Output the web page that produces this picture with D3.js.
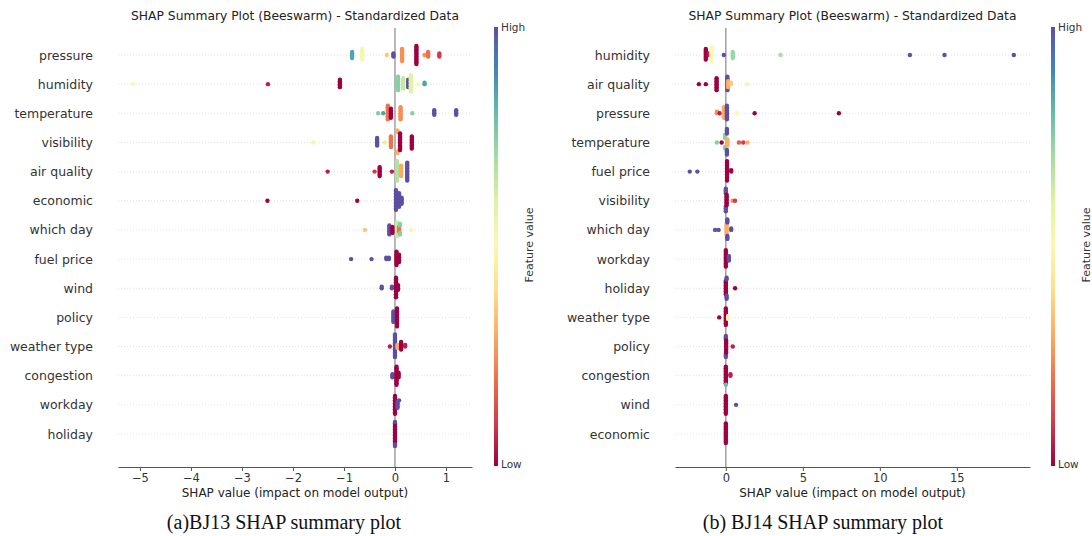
<!DOCTYPE html>
<html>
<head>
<meta charset="utf-8">
<script src="https://cdn.jsdelivr.net/npm/d3@7"></script>
<style>
  body { margin: 0; background: #fff; }
  svg text { font-family: "DejaVu Sans", sans-serif; }
  .caption { font-family: "Liberation Serif", "Times New Roman", serif !important; }
</style>
</head>
<body>
<svg id="chart" width="1092" height="536"></svg>
<script>
// features, top to bottom
const bj13Features = ["pressure", "humidity", "temperature", "visibility", "air quality", "economic",
  "which day", "fuel price", "wind", "policy", "weather type", "congestion", "workday", "holiday"];
const bj14Features = ["humidity", "air quality", "pressure", "temperature", "fuel price", "visibility",
  "which day", "workday", "holiday", "weather type", "policy", "congestion", "wind", "economic"];

// clusters per feature: [shap value, feature value (0 low .. 1 high), number of dots]
const bj13Points = [
  [[-0.84,0.85,5],[-0.64,0.55,8],[-0.16,0.35,1],[-0.03,1,3],[0.14,0.25,9],[0.42,0,13],[0.58,0.25,1],[0.65,0.2,4],[0.87,0.1,3]],
  [[-5.13,0.5,1],[-2.49,0.05,1],[-1.08,0,6],[0.06,0.75,10],[0.16,0.65,8],[0.26,1,6],[0.31,0.6,12],[0.46,0.5,1],[0.58,0.85,2]],
  [[-0.33,0.75,1],[-0.23,0.85,1],[-0.14,0.2,10],[-0.08,0,7],[0.11,0.25,9],[0.34,0.75,1],[0.77,1,4],[1.2,1,4]],
  [[-1.6,0.55,1],[-0.35,1,6],[-0.2,0.6,1],[-0.08,0.2,8],[0.05,0.3,4],[0.1,0,12],[0.33,0,9]],
  [[-1.32,0.05,1],[-0.4,0.1,1],[-0.3,0,7],[-0.06,0.05,1],[0.04,0.68,14],[0.12,0.3,8],[0.24,1,13]],
  [[-2.5,0,1],[-0.74,0,1],[0.02,1,14],[0.08,1,10],[0.13,1,5]],
  [[-0.59,0.35,1],[-0.11,1,7],[-0.05,0,5],[0.04,0.65,10],[0.08,0.2,4],[0.1,0.75,4],[0.32,0.5,1]],
  [[-0.86,1,1],[-0.46,1,1],[-0.17,1,2],[-0.12,1,2],[0.03,0,10],[0.08,0,6]],
  [[-0.26,1,2],[-0.06,1,2],[0.02,0,14],[0.06,0,4]],
  [[-0.03,1,8],[0.04,0,13]],
  [[-0.1,0.05,1],[0,1,16],[0.05,0.3,3],[0.12,0,6],[0.2,0.05,2]],
  [[-0.05,1,3],[0.03,0,13],[0.07,0,4]],
  [[0,0,13],[0.05,1,5],[0.08,1,1]],
  [[0,0,14],[0,1,3]]
];
const bj14Points = [
  [[-1.3,0,8],[-1.1,0.05,2],[-0.93,0.5,10],[-0.13,1,1],[0.45,0.72,5],[3.55,0.7,1],[11.95,1,1],[14.2,1,1],[18.7,1,1]],
  [[-1.75,0,1],[-1.3,0,1],[-0.6,0,9],[0.1,1,10],[0.15,0.3,5],[0.32,0.35,2],[1.4,0.55,1]],
  [[-0.58,0.25,2],[-0.4,0.05,1],[-0.13,0.3,8],[0.07,1,10],[0.7,0.5,1],[1.87,0,1],[7.34,0,1]],
  [[-0.58,0.75,1],[-0.27,0,1],[-0.05,0.75,5],[0.07,1,8],[0.1,0.3,5],[0.85,0.15,1],[1.13,0.1,1],[1.4,0.3,1]],
  [[-2.34,1,1],[-1.85,1,1],[0.08,0,14],[0.35,0,2]],
  [[0,1,8],[0.05,0,8],[0.45,0.25,1],[0.6,0.1,1]],
  [[-0.7,1,1],[-0.47,1,1],[0.05,0.3,8],[0.1,1,6],[0.35,1,2]],
  [[0,0,12],[0.2,1,4]],
  [[0,0,10],[0.05,1,5],[0.6,0,1]],
  [[-0.43,0,1],[0,0,12],[0.15,0.55,3]],
  [[0,1,6],[0.02,0,9],[0.45,0.05,1]],
  [[0,0,12],[0,0.8,1],[0.3,0.05,2]],
  [[0,0,13],[0.66,1,1]],
  [[0,0,14]]
];

const bj13Ticks = [-5, -4, -3, -2, -1, 0, 1];
const bj14Ticks = [0, 5, 10, 15];

const svg = d3.select("#chart");
const color = d3.interpolateSpectral; // 0 = low (dark red), 1 = high (purple)

function drawPanel(opt) {
  const g = svg.append("g");
  const x = d3.scaleLinear().domain(opt.domain).range(opt.xRange);
  const y = d3.scalePoint().domain(opt.features).range([55, 434]);

  // title
  g.append("text")
    .attr("x", (opt.xRange[0] + opt.xRange[1]) / 2)
    .attr("y", 20)
    .attr("text-anchor", "middle")
    .attr("font-size", 12.3)
    .attr("fill", "#222")
    .text("SHAP Summary Plot (Beeswarm) - Standardized Data");

  // dotted row lines
  g.selectAll(".row").data(opt.features).enter().append("line")
    .attr("x1", opt.xRange[0]).attr("x2", opt.xRange[1])
    .attr("y1", d => y(d)).attr("y2", d => y(d))
    .attr("stroke", "#d4d4d4").attr("stroke-width", 0.7)
    .attr("stroke-dasharray", "1,2");

  // zero line
  g.append("line")
    .attr("x1", x(0)).attr("x2", x(0))
    .attr("y1", 28).attr("y2", 467)
    .attr("stroke", "#999").attr("stroke-width", 1.4);

  // feature labels
  g.selectAll(".lab").data(opt.features).enter().append("text")
    .attr("x", opt.labelX)
    .attr("y", d => y(d) + 4.5)
    .attr("text-anchor", "end")
    .attr("font-size", 12.5)
    .attr("fill", "#333")
    .text(d => d);

  // beeswarm: bin by pixel, stack alternately up/down
  const gap = 1.5;
  opt.points.forEach((clusters, i) => {
    const feat = opt.features[i];
    const dots = [];
    clusters.forEach(c => {
      for (let k = 0; k < c[2]; k++) dots.push({ s: c[0], v: c[1] });
    });
    const bins = d3.group(dots, d => Math.round(x(d.s) / 3));
    bins.forEach(list => {
      list.sort((a, b) => a.v - b.v);
      list.forEach((d, j) => {
        const sign = j % 2 === 0 ? 1 : -1;
        d.off = sign * Math.ceil(j / 2) * gap;
      });
    });
    g.selectAll(null).data(dots).enter().append("circle")
      .attr("cx", d => x(d.s))
      .attr("cy", d => y(feat) + d.off)
      .attr("r", 2.2)
      .attr("fill", d => color(d.v));
  });

  // x axis
  const axis = g.append("g")
    .attr("transform", "translate(0,467)")
    .call(d3.axisBottom(x).tickValues(opt.ticks).tickFormat(d3.format("d"))
      .tickSize(4).tickSizeOuter(0));
  axis.select(".domain").attr("stroke", "#555");
  axis.selectAll(".tick line").attr("stroke", "#555");
  axis.selectAll(".tick text").attr("font-size", 11.5).attr("fill", "#333")
    .attr("font-family", "DejaVu Sans, sans-serif");

  g.append("text")
    .attr("x", (opt.xRange[0] + opt.xRange[1]) / 2)
    .attr("y", 497)
    .attr("text-anchor", "middle")
    .attr("font-size", 12)
    .attr("fill", "#222")
    .text("SHAP value (impact on model output)");

  // colorbar
  const gid = "grad" + opt.id;
  const grad = svg.append("defs").append("linearGradient")
    .attr("id", gid).attr("x1", 0).attr("y1", 1).attr("x2", 0).attr("y2", 0);
  d3.range(0, 1.0001, 0.1).forEach(t => {
    grad.append("stop").attr("offset", t).attr("stop-color", color(t));
  });
  g.append("rect")
    .attr("x", opt.barX).attr("y", 27)
    .attr("width", 4).attr("height", 439)
    .attr("fill", `url(#${gid})`);
  g.append("text").attr("x", opt.barX + 7).attr("y", 31)
    .attr("font-size", 10.5).attr("fill", "#333").text("High");
  g.append("text").attr("x", opt.barX + 7).attr("y", 468)
    .attr("font-size", 10.5).attr("fill", "#333").text("Low");
  g.append("text")
    .attr("transform", `translate(${opt.barX + 39},245) rotate(-90)`)
    .attr("text-anchor", "middle")
    .attr("font-size", 11)
    .attr("fill", "#333")
    .text("Feature value");

  // caption
  g.append("text")
    .attr("class", "caption")
    .attr("x", opt.captionX)
    .attr("y", 529)
    .attr("text-anchor", "middle")
    .attr("font-size", 20)
    .attr("fill", "#111")
    .text(opt.caption);
}

drawPanel({
  id: "a", features: bj13Features, points: bj13Points, ticks: bj13Ticks,
  domain: [-5.43, 1.51], xRange: [118, 472], labelX: 93, barX: 494,
  caption: "(a)BJ13 SHAP summary plot", captionX: 284
});
drawPanel({
  id: "b", features: bj14Features, points: bj14Points, ticks: bj14Ticks,
  domain: [-3.3, 19.75], xRange: [675, 1030], labelX: 650, barX: 1051,
  caption: "(b) BJ14 SHAP summary plot", captionX: 823
});
</script>
</body>
</html>
